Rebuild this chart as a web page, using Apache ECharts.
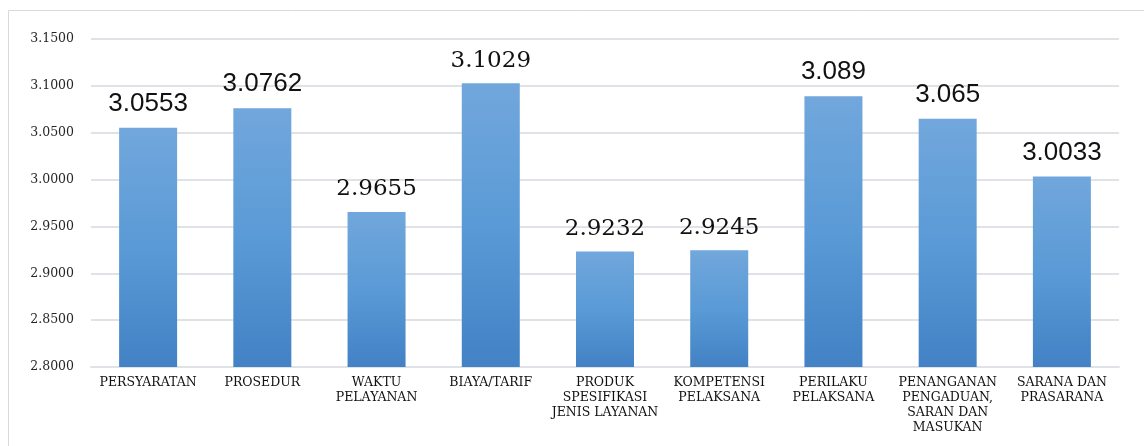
<!DOCTYPE html>
<html>
<head>
<meta charset="utf-8">
<style>
  html, body { margin: 0; padding: 0; background: #ffffff; }
  #chart { width: 1144px; height: 446px; }
</style>
<script src="https://cdn.jsdelivr.net/npm/echarts@6/dist/echarts.min.js"></script>
</head>
<body>
<div id="chart"></div>
<script>
// Service-quality indicator scores
const categories = [
  'PERSYARATAN',
  'PROSEDUR',
  'WAKTU\nPELAYANAN',
  'BIAYA/TARIF',
  'PRODUK\nSPESIFIKASI\nJENIS LAYANAN',
  'KOMPETENSI\nPELAKSANA',
  'PERILAKU\nPELAKSANA',
  'PENANGANAN\nPENGADUAN,\nSARAN DAN\nMASUKAN',
  'SARANA DAN\nPRASARANA'
];
const scores = [3.0553, 3.0762, 2.9655, 3.1029, 2.9232, 2.9245, 3.089, 3.065, 3.0033];
// Label typeface per bar: 's' = serif, 'a' = sans
const labelFaces = ['a', 'a', 's', 's', 's', 's', 'a', 'a', 'a'];

const serif = '"DejaVu Serif", "Liberation Serif", serif';
const sans = '"Liberation Sans", Arial, sans-serif';

const barGradient = new echarts.graphic.LinearGradient(0, 0, 0, 1, [
  { offset: 0, color: '#71a7dc' },
  { offset: 0.5, color: '#5a9ad6' },
  { offset: 1, color: '#4282c5' }
]);

const seriesData = scores.map((v, i) => ({
  value: v,
  label: labelFaces[i] === 's'
    ? { fontFamily: serif, fontSize: 23 }
    : { fontFamily: sans, fontSize: 26 }
}));

const chart = echarts.init(document.getElementById('chart'), null, { renderer: 'canvas' });
chart.setOption({
  animation: false,
  backgroundColor: '#ffffff',
  graphic: [{
    type: 'rect',
    shape: { x: 8.5, y: 10.5, width: 1200, height: 500 },
    style: { fill: 'none', stroke: '#d9d9d9', lineWidth: 1 },
    silent: true
  }],
  grid: { left: 91, right: 25, top: 39, bottom: 79 },
  xAxis: {
    type: 'category',
    data: categories,
    axisLine: { show: true, lineStyle: { color: '#dfe3e8', width: 2 } },
    axisTick: { show: false },
    axisLabel: {
      interval: 0,
      margin: 8,
      color: '#111111',
      fontFamily: serif,
      fontSize: 12.5,
      lineHeight: 15
    }
  },
  yAxis: {
    type: 'value',
    min: 2.8,
    max: 3.15,
    interval: 0.05,
    axisLine: { show: false },
    axisTick: { show: false },
    splitLine: { lineStyle: { color: '#dfe3e8', width: 2 } },
    axisLabel: {
      margin: 17,
      color: '#262626',
      fontFamily: serif,
      fontSize: 12.5,
      formatter: v => v.toFixed(4)
    }
  },
  series: [{
    type: 'bar',
    data: seriesData,
    barWidth: 58,
    itemStyle: { color: barGradient },
    label: {
      show: true,
      position: 'top',
      distance: 11,
      color: '#111111',
      formatter: p => String(p.value)
    }
  }]
});
</script>
</body>
</html>
